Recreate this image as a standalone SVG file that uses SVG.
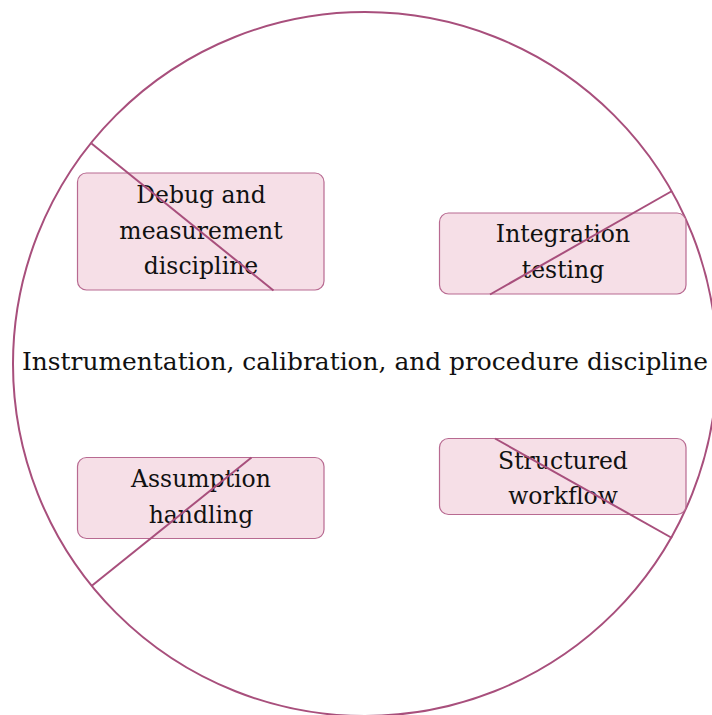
<svg xmlns="http://www.w3.org/2000/svg" width="712" height="715" viewBox="0 0 712 715">
<style>
.box{fill:#f6dfe7;stroke:#b86a91;stroke-width:1.2}
.t{font-family:"DejaVu Serif","Liberation Serif",serif;font-size:23.5px;fill:#111;text-anchor:middle}
.c{fill:none;stroke:#a84f7c;stroke-width:2}
</style>
<rect width="712" height="715" fill="#fff"/>
<g id="circle">
<circle class="c" cx="365" cy="364" r="352"/>
<text class="t" x="365" y="370" textLength="686" lengthAdjust="spacingAndGlyphs">Instrumentation, calibration, and procedure discipline</text>
</g>
<g id="debug">
<rect class="box" x="77.5" y="173" width="246.5" height="117" rx="9"/>
<text class="t" x="201" y="203">Debug and</text>
<text class="t" x="201" y="239">measurement</text>
<text class="t" x="201" y="274">discipline</text>
</g>
<g id="integration">
<rect class="box" x="439.5" y="213" width="246.5" height="81" rx="9"/>
<text class="t" x="563" y="242">Integration</text>
<text class="t" x="563" y="278">testing</text>
</g>
<g id="assumption">
<rect class="box" x="77.5" y="457.5" width="246.5" height="81" rx="9"/>
<text class="t" x="201" y="487">Assumption</text>
<text class="t" x="201" y="523">handling</text>
</g>
<g id="structured">
<rect class="box" x="439.5" y="438.5" width="246.5" height="76" rx="9"/>
<text class="t" x="563" y="469">Structured</text>
<text class="t" x="563" y="504">workflow</text>
</g>
<g id="connectors">
<line class="c" x1="91.5" y1="143.5" x2="273.5" y2="290.5"/>
<line class="c" x1="672" y1="191" x2="490" y2="294.5"/>
<line class="c" x1="91.5" y1="586" x2="251.5" y2="457.5"/>
<line class="c" x1="672" y1="538" x2="495" y2="438.5"/>
</g>
</svg>
